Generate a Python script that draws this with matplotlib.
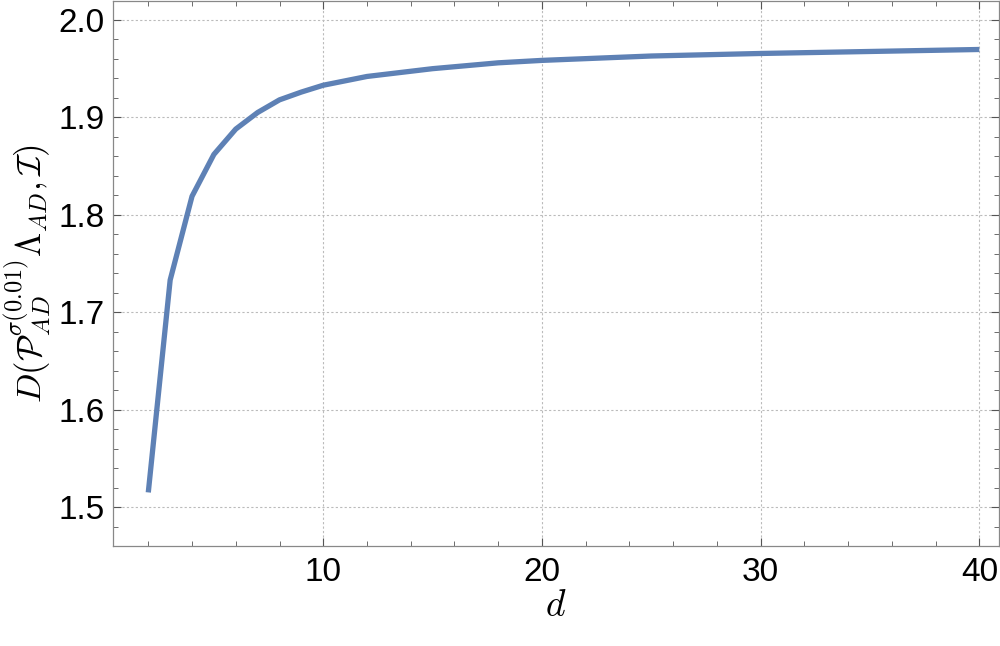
import matplotlib
matplotlib.use("Agg")
import matplotlib.pyplot as plt
from matplotlib.ticker import MultipleLocator

d_vals = [2, 3, 4, 5, 6, 7, 8, 9, 10, 12, 15, 18, 20, 25, 30, 40]
D_vals = [1.515, 1.733, 1.819, 1.862, 1.888, 1.905, 1.918, 1.926, 1.933,
          1.942, 1.950, 1.956, 1.9585, 1.963, 1.9656, 1.9697]

plt.rcParams['mathtext.fontset'] = 'cm'
plt.rcParams['font.family'] = ['Liberation Sans', 'DejaVu Sans']

fig = plt.figure(figsize=(10, 6.46), dpi=100)
ax = fig.add_axes([0.1133, 0.1548, 0.8857, 0.8437])

ax.plot(d_vals, D_vals, color='#5E81B5', lw=3.8, solid_capstyle='butt', solid_joinstyle='round')

ax.set_xlim(0.4, 40.9)
ax.set_ylim(1.46, 2.0195)

ax.xaxis.set_major_locator(MultipleLocator(10))
ax.xaxis.set_minor_locator(MultipleLocator(2))
ax.yaxis.set_minor_locator(MultipleLocator(0.02))
ax.set_yticks([1.5, 1.6, 1.7, 1.8, 1.9, 2.0])
ax.set_yticklabels(['1.5', '1.6', '1.7', '1.8', '1.9', '2.0'])

ax.tick_params(which='both', direction='in', top=True, right=True, color='#555555',
               labelsize=24, labelcolor='black')
ax.tick_params(which='major', length=6, width=0.8)
ax.tick_params(axis='y', which='major', pad=6)
ax.tick_params(axis='x', which='major', pad=8)
ax.tick_params(which='minor', length=3.5, width=0.6)

for s in ax.spines.values():
    s.set_color('#888888')
    s.set_linewidth(0.9)

ax.grid(True, which='major', color='#bbbbbb', linestyle=(0, (2, 2)), linewidth=0.8)
ax.set_axisbelow(True)

ax.set_xlabel(r'$d$', fontsize=27, labelpad=0)
ax.set_ylabel(r'$D(\mathcal{P}_{AD}^{\sigma(0.01)}\Lambda_{AD},\mathcal{I})$', fontsize=25, labelpad=4)

fig.savefig('out.png', dpi=100)
